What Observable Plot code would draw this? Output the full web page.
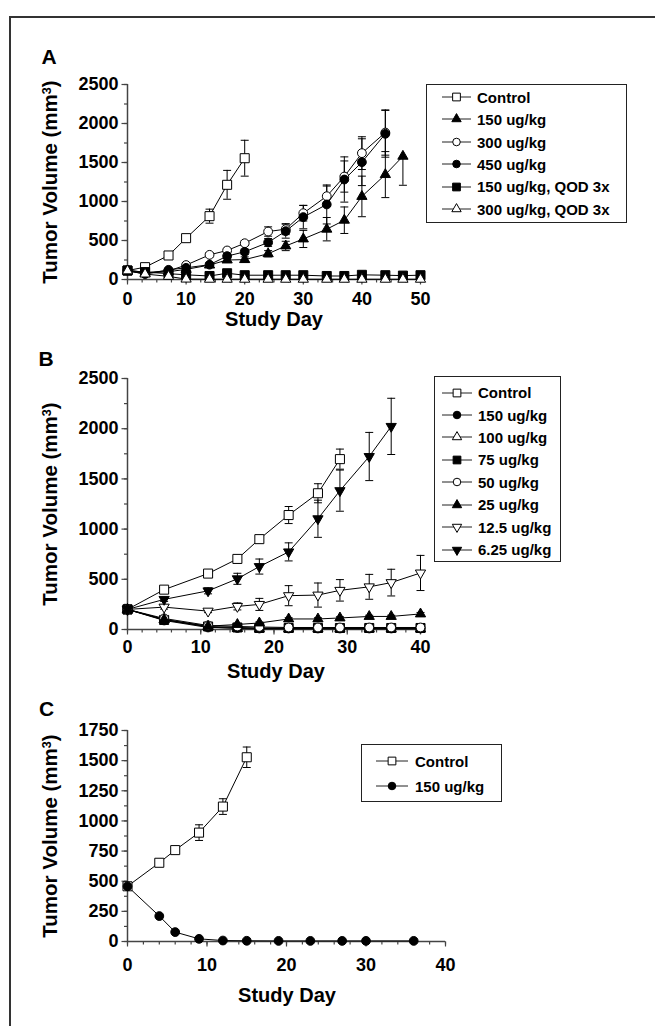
<!DOCTYPE html>
<html><head><meta charset="utf-8">
<script src="https://cdn.jsdelivr.net/npm/d3@7"></script>
<script src="https://cdn.jsdelivr.net/npm/@observablehq/plot@0.6"></script>
<style>
html,body{margin:0;padding:0;background:#fff;overflow:hidden;}
#fig{position:relative;width:655px;height:1026px;overflow:hidden;font-family:"Liberation Sans",Arial,Helvetica,sans-serif;font-weight:bold;color:#000;}
.frame{position:absolute;left:9px;top:16px;width:800px;height:1200px;border-left:2px solid #333;border-top:2px solid #333;}
.abs{position:absolute;white-space:nowrap;}
.letter{font-size:21px;line-height:21px;}
.ytitle{font-size:20.5px;line-height:20.5px;transform:translate(-50%,-50%) rotate(-90deg);}
.xtitle{font-size:20px;line-height:20px;transform:translateX(-50%);}
.lbox{position:absolute;border:1.5px solid #222;box-sizing:border-box;}
.ltext{font-size:15px;line-height:15px;}
.sup{font-size:0.62em;position:relative;top:-0.5em;}
</style></head><body><div id="fig"></div>
<script>
// ---------- Panel A data ----------
const daysA = [0,3,7,10,14,17,20,24,27,30,34,37,40,44,47,50];
const A_control = [115,158,308,530,812,1214,1555];
const A_control_err = [10,15,25,20,90,185,230];
const A_150 = [110,80,100,130,185,250,255,330,430,520,645,760,1065,1345,1580];
const A_150_err = [10,10,15,20,25,30,35,40,60,110,150,170,260,295,[372,0]];
const A_300 = [120,90,110,185,316,372,465,615,645,850,1068,1320,1620,1884];
const A_300_err = [10,10,15,20,25,30,30,60,70,100,130,200,210,290];
const A_450 = [115,70,124,150,190,300,355,475,620,800,962,1282,1504,1868];
const A_450_err = [10,10,15,20,20,30,35,50,90,150,250,290,300,300];
const A_qod150 = [115,95,75,60,45,80,55,55,55,55,45,45,60,55,50,55];
const A_qod150_err = [10,10,10,10,10,15,10,10,10,10,10,10,10,10,10,10];
const A_qod300 = [110,70,40,5,3,3,3,3,3,3,3,3,3,3,3,3];
const A_qod300_err = [10,10,10,5,8,8,8,8,8,8,8,8,8,8,8,8];
const A_xTicks = [0,10,20,30,40,50];
const A_yTicks = [0,500,1000,1500,2000,2500];

// ---------- Panel B data ----------
const daysB = [0,5,11,15,18,22,26,29,33,36,40];
const B_control = [200,397,557,703,900,1140,1357,1697];
const B_control_err = [10,15,15,20,30,85,95,100];
const B_150 = [200,90,20,15,10,10,10,10,10,10,10];
const B_150_err = [10,15,8,5,5,5,5,5,5,5,5];
const B_100 = [200,100,25,10,5,5,5,5,5,5,5];
const B_100_err = [10,15,8,5,5,5,5,5,5,5,5];
const B_75 = [200,95,30,20,15,15,15,15,15,15,15];
const B_75_err = [10,15,8,5,5,5,5,5,5,5,5];
const B_50 = [200,110,40,30,25,20,20,20,20,20,20];
const B_50_err = [10,15,8,5,5,5,5,5,5,5,5];
const B_25 = [200,100,33,50,65,105,105,115,130,130,155];
const B_25_err = [10,15,10,10,10,12,12,12,12,12,15];
const B_12 = [200,223,183,230,250,337,343,390,425,467,563];
const B_12_err = [10,20,15,35,60,100,120,107,124,133,175];
const B_6 = [200,300,385,505,627,773,1103,1383,1723,2023];
const B_6_err = [10,20,30,55,75,90,185,205,240,280];
const B_xTicks = [0,10,20,30,40];
const B_yTicks = [0,500,1000,1500,2000,2500];

// ---------- Panel C data ----------
const daysC = [0,4,6,9,12,15,19,23,27,30,36];
const C_control = [458,653,758,903,1119,1528];
const C_control_err = [15,15,25,65,65,85];
const C_150 = [458,211,78,22,8,6,5,5,5,5,5];
const C_150_err = [10,10,8,5,3,3,3,3,3,3,3];
const C_xTicks = [0,10,20,30,40];
const C_yTicks = [0,250,500,750,1000,1250,1500,1750];

// ---------- symbols ----------
const sqrt3 = Math.sqrt(3);
const triDown = {draw(ctx, size){ const y = -Math.sqrt(size/(sqrt3*3)); ctx.moveTo(0,-y*2); ctx.lineTo(-sqrt3*y, y); ctx.lineTo(sqrt3*y, y); ctx.closePath(); }};
const hCap = {draw(ctx, size){ const w = Math.sqrt(size); ctx.moveTo(-w/2,0); ctx.lineTo(w/2,0); }};
const tickLeft = len => ({draw(ctx){ ctx.moveTo(-len,0); ctx.lineTo(0,0); }});
const tickDown = len => ({draw(ctx){ ctx.moveTo(0,0); ctx.lineTo(0,len); }});
const SYM = {square: d3.symbolSquare, circle: d3.symbolCircle, tri: d3.symbolTriangle, triDown};
const R = {square: 5.1, circle: 4.4, tri: 3.8, triDown: 3.8};
const LSIZE = {square: 60, circle: 45, tri: 38, triDown: 38};
const AX = "#444";

const fig = document.getElementById("fig");

function range(a, b, step){ const out=[]; for(let v=a; v<=b+1e-9; v+=step) out.push(+v.toFixed(4)); return out; }

function buildRows(days, defs){
  const rows = [];
  for (const s of defs) s.values.forEach((v,i)=>{
    const e = s.err ? s.err[i] : 0;
    const [dn, up] = Array.isArray(e) ? e : [e, e];
    rows.push({series: s.label, day: days[i], v, lo: v-dn, hi: v+up, dn, up, def: s});
  });
  return rows;
}

function addDiv(cls, html, css){
  const d = document.createElement("div");
  d.className = cls; d.innerHTML = html;
  Object.assign(d.style, css);
  fig.appendChild(d);
  return d;
}

function panel(p){
  const rows = buildRows(p.days, p.defs);
  const errRows = rows.filter(r => r.dn > 0 || r.up > 0);
  const x0 = p.xDomain[0], y0 = p.yDomain[0];
  const marks = [
    Plot.ruleY([y0], {stroke: AX, strokeWidth: 1.5}),
    Plot.ruleX([x0], {stroke: AX, strokeWidth: 1.5}),
    Plot.dot(p.yMinor, {x: () => x0, y: d => d, symbol: tickLeft(3.5), r: 3, stroke: AX, fill: "none", strokeWidth: 1.2}),
    Plot.dot(p.yMajor, {x: () => x0, y: d => d, symbol: tickLeft(6), r: 3, stroke: AX, fill: "none", strokeWidth: 1.2}),
    Plot.dot(p.xMinor, {x: d => d, y: () => y0, symbol: tickDown(3), r: 3, stroke: AX, fill: "none", strokeWidth: 1.2}),
    Plot.dot(p.xMajor, {x: d => d, y: () => y0, symbol: tickDown(5), r: 3, stroke: AX, fill: "none", strokeWidth: 1.2}),
    Plot.line(rows, {x: "day", y: "v", z: "series", stroke: "black", strokeWidth: 1}),
    Plot.ruleX(errRows, {x: "day", y1: "lo", y2: "hi", stroke: "black", strokeWidth: 1}),
    Plot.dot(errRows.filter(r => r.up > 0), {x: "day", y: "hi", symbol: hCap, r: 4.5, stroke: "black", fill: "none", strokeWidth: 1}),
    Plot.dot(errRows.filter(r => r.dn > 0), {x: "day", y: "lo", symbol: hCap, r: 4.5, stroke: "black", fill: "none", strokeWidth: 1})
  ];
  for (const s of p.defs){
    const sr = rows.filter(r => r.def === s);
    marks.push(Plot.dot(sr, {x: "day", y: "v", symbol: SYM[s.shape], r: R[s.shape], fill: s.open ? "white" : "black", stroke: "black", strokeWidth: 1}));
  }
  const svg = Plot.plot({
    width: 655, height: p.height,
    marginLeft: 127, marginRight: p.mr, marginTop: p.mt, marginBottom: p.mb,
    x: {domain: p.xDomain, ticks: p.xMajor, tickSize: 0, tickPadding: 5 + p.xPad, tickFormat: d => String(d), label: null},
    y: {domain: p.yDomain, ticks: p.yMajor, tickSize: 0, tickPadding: 9, tickFormat: d => String(d), label: null},
    style: {fontFamily: '"Liberation Sans", Arial, sans-serif', fontSize: "18px", fontWeight: "bold", color: "black", background: "transparent", overflow: "visible"},
    marks
  });
  const wrap = document.createElement("div");
  wrap.style.position = "absolute"; wrap.style.left = "0px"; wrap.style.top = p.top + "px";
  wrap.appendChild(svg);
  fig.appendChild(wrap);

  addDiv("abs letter", p.letter, {left: p.letterX + "px", top: p.letterY + "px"});
  addDiv("abs ytitle", 'Tumor Volume (mm<span class="sup">3</span>)', {left: "52px", top: p.yTitleY + "px"});
  addDiv("abs xtitle", "Study Day", {left: p.xTitleX + "px", top: p.xTitleY + "px"});

  const L = p.legend;
  addDiv("lbox", "", {left: L.x0 + "px", top: L.y0 + "px", width: (L.x1 - L.x0) + "px", height: (L.y1 - L.y0) + "px"});
  p.defs.forEach((s, i) => {
    const cy = L.first + i * L.step;
    const w = L.lx1 - L.lx0;
    const path = d3.symbol(SYM[s.shape], LSIZE[s.shape])();
    addDiv("abs", `<svg width="${w}" height="14" style="display:block;overflow:visible"><line x1="0" x2="${w}" y1="7" y2="7" stroke="#222" stroke-width="1"/><path d="${path}" transform="translate(${w/2},7)" fill="${s.open ? "white" : "black"}" stroke="black" stroke-width="1"/></svg>`, {left: L.lx0 + "px", top: (cy - 7) + "px"});
    addDiv("abs ltext", s.label, {left: L.tx + "px", top: (cy - 7.3) + "px"});
  });
}

panel({
  letter: "A", letterX: 41.5, letterY: 46.3, yTitleY: 181.5, xTitleX: 274, xTitleY: 309,
  top: 30, height: 300, mt: 54, mb: 51, mr: 235, xPad: 8,
  xDomain: [0,50], yDomain: [0,2500],
  xMajor: A_xTicks, xMinor: range(0,50,2.5), yMajor: A_yTicks, yMinor: range(0,2500,250),
  days: daysA,
  defs: [
    {label: "Control", values: A_control, err: A_control_err, shape: "square", open: true},
    {label: "150 ug/kg", values: A_150, err: A_150_err, shape: "tri", open: false},
    {label: "300 ug/kg", values: A_300, err: A_300_err, shape: "circle", open: true},
    {label: "450 ug/kg", values: A_450, err: A_450_err, shape: "circle", open: false},
    {label: "150 ug/kg, QOD 3x", values: A_qod150, err: A_qod150_err, shape: "square", open: false},
    {label: "300 ug/kg, QOD 3x", values: A_qod300, err: A_qod300_err, shape: "tri", open: true}
  ],
  legend: {x0: 426, y0: 84, x1: 627, y1: 223, first: 97, step: 22.4, lx0: 442, lx1: 471, tx: 477}
});

panel({
  letter: "B", letterX: 38.5, letterY: 348, yTitleY: 503.5, xTitleX: 276, xTitleY: 660.7,
  top: 340, height: 320, mt: 38, mb: 31, mr: 235, xPad: 5.5,
  xDomain: [0,40], yDomain: [0,2500],
  xMajor: B_xTicks, xMinor: range(0,40,2), yMajor: B_yTicks, yMinor: range(0,2500,250),
  days: daysB,
  defs: [
    {label: "Control", values: B_control, err: B_control_err, shape: "square", open: true},
    {label: "150 ug/kg", values: B_150, err: B_150_err, shape: "circle", open: false},
    {label: "100 ug/kg", values: B_100, err: B_100_err, shape: "tri", open: true},
    {label: "75 ug/kg", values: B_75, err: B_75_err, shape: "square", open: false},
    {label: "50 ug/kg", values: B_50, err: B_50_err, shape: "circle", open: true},
    {label: "25 ug/kg", values: B_25, err: B_25_err, shape: "tri", open: false},
    {label: "12.5 ug/kg", values: B_12, err: B_12_err, shape: "triDown", open: true},
    {label: "6.25 ug/kg", values: B_6, err: B_6_err, shape: "triDown", open: false}
  ],
  legend: {x0: 434, y0: 376, x1: 561, y1: 562, first: 392.5, step: 22.43, lx0: 442, lx1: 472, tx: 478}
});

panel({
  letter: "C", letterX: 39, letterY: 698.3, yTitleY: 835.5, xTitleX: 287, xTitleY: 984.6,
  top: 690, height: 300, mt: 40, mb: 49, mr: 210, xPad: 12,
  xDomain: [0,40], yDomain: [0,1750],
  xMajor: C_xTicks, xMinor: range(0,40,2), yMajor: C_yTicks, yMinor: range(0,1750,125),
  days: daysC,
  defs: [
    {label: "Control", values: C_control, err: C_control_err, shape: "square", open: true},
    {label: "150 ug/kg", values: C_150, err: C_150_err, shape: "circle", open: false}
  ],
  legend: {x0: 361, y0: 744, x1: 502, y1: 802, first: 761, step: 25, lx0: 376, lx1: 408, tx: 415}
});

const fr = document.createElement("div"); fr.className = "frame"; fig.appendChild(fr);
</script></body></html>
